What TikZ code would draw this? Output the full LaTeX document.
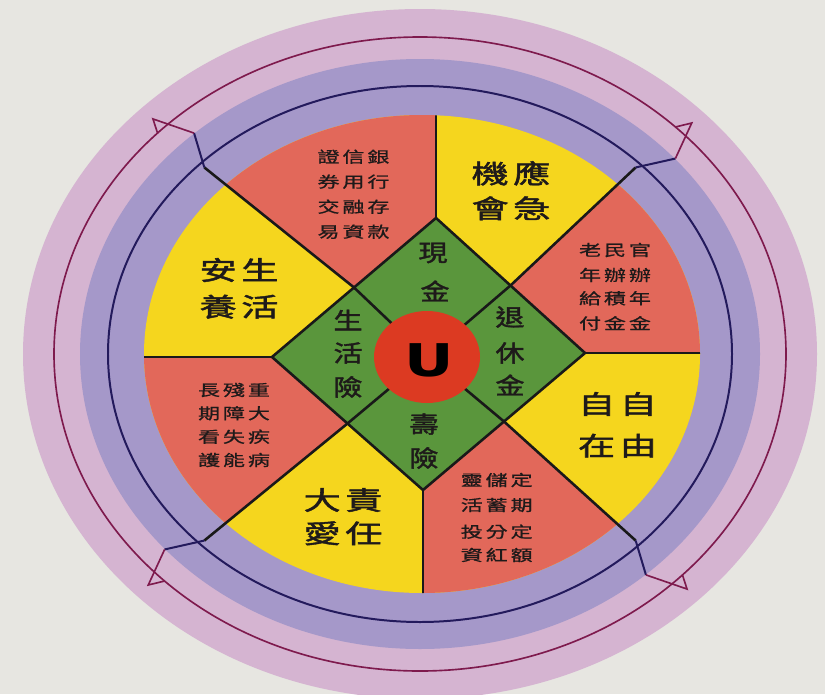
\documentclass[tikz,border=0pt]{standalone}
\usepackage{fontspec}
\usepackage{graphicx}
\usetikzlibrary{calc}
\newfontfamily\cjk[FakeBold=0.8]{Noto Sans CJK TC}
\newfontfamily\cjkb[FakeBold=1.6]{Noto Sans CJK TC}
\newfontfamily\ufont{DejaVu Sans}
\definecolor{paper}{HTML}{E7E6E1}
\definecolor{ringpink}{HTML}{D5B4D1}
\definecolor{ringpurple}{HTML}{A598C9}
\definecolor{pieyellow}{HTML}{F5D61E}
\definecolor{piered}{HTML}{E2685A}
\definecolor{dgreen}{HTML}{5A963C}
\definecolor{ured}{HTML}{DC3A22}
\definecolor{navy}{HTML}{231A5C}
\definecolor{magent}{HTML}{7E1A4D}
\definecolor{ink}{HTML}{1E1A1A}
\newcommand\vsq[2][0.7]{\scalebox{1}[#1]{#2}}
\newcommand\sgap{\hspace{2.5pt}}
\newcommand\lgap{\hspace{4pt}}
\begin{document}
\begin{tikzpicture}[x=0.3mm,y=-0.3mm,
  divider/.style={line width=2.2pt, draw=black!90},
  navyline/.style={line width=1.7pt, draw=navy},
  magline/.style={line width=1.4pt, draw=magent, line join=miter},
  smalltxt/.style={font=\cjk\fontsize{18.8}{20}\selectfont, inner sep=0pt, text=ink},
  bigtxt/.style={font=\cjkb\fontsize{31.6}{34}\selectfont, inner sep=0pt, text=ink},
  greentxt/.style={font=\cjkb\fontsize{24.8}{28}\selectfont, inner sep=0pt, text=ink},
  utxt/.style={font=\ufont\bfseries\fontsize{52}{56}\selectfont, inner sep=0pt, text=black}]
\useasboundingbox (0,0) rectangle (825,694);
\fill[paper] (0,0) rectangle (825,694);
% rings
\fill[ringpink] (420,354) ellipse [x radius=397, y radius=345];
\fill[ringpurple] (420,354) ellipse [x radius=340, y radius=295];
\draw[magline] (420,354) ellipse [x radius=366, y radius=317];
\draw[navyline] (420,354) ellipse [x radius=312, y radius=268];
% key points
\coordinate (T) at (436,218);
\coordinate (R) at (585,353);
\coordinate (B) at (423,490);
\coordinate (L) at (272,357);
\coordinate (C) at (427,357);
\coordinate (mTL) at ($(T)!0.5!(L)$);
\coordinate (mTR) at ($(T)!0.5!(R)$);
\coordinate (mBR) at ($(B)!0.5!(R)$);
\coordinate (mBL) at ($(B)!0.5!(L)$);
\begin{scope}[shift={(420,354)}, yscale=-0.865]
  \coordinate (dTR) at (45:305);
  \coordinate (dTL) at (135:305);
  \coordinate (dBL) at (225:305);
  \coordinate (dBR) at (315:305);
\end{scope}
% pie
\fill[pieyellow] (422,354) ellipse [x radius=278, y radius=239];
\begin{scope}
  \clip (422,354) ellipse [x radius=278, y radius=239];
  \fill[piered] (T) -- ++(0,-400) -- ($(mTL)!4!(dTL)$) -- (mTL) -- cycle;
  \fill[piered] (mTR) -- ($(mTR)!4!(dTR)$) -- (1300,-300) -- (1300,353) -- (R) -- cycle;
  \fill[piered] (mBR) -- ($(mBR)!4!(dBR)$) -- (1100,1300) -- (423,1300) -- (B) -- cycle;
  \fill[piered] (L) -- (-300,357) -- (-300,1300) -- ($(mBL)!4!(dBL)$) -- (mBL) -- cycle;
  \draw[divider] (T) -- ++(0,-200);
  \draw[divider] (B) -- ++(0,200);
  \draw[divider] (L) -- ++(-200,0);
  \draw[divider] (R) -- ++(200,0);
\end{scope}
% diagonals
\draw[divider] (mTL) -- (dTL);
\draw[divider] (mTR) -- (dTR);
\draw[divider] (mBR) -- (dBR);
\draw[divider] (mBL) -- (dBL);
% diamond
\fill[dgreen] (T) -- (R) -- (B) -- (L) -- cycle;
\draw[divider] (T) -- (R) -- (B) -- (L) -- cycle;
\draw[divider] (mTL) -- (C);
\draw[divider] (mTR) -- (C);
\draw[divider] (mBR) -- (C);
\draw[divider] (mBL) -- (C);
\fill[ured] (C) ellipse [x radius=53, y radius=46];
% arrows
\begin{scope}[shift={(420,354)}, yscale=-0.865]
  \foreach \p in {45,135,225,315}{
    \draw[navyline] (\p:305) -- ({\p-3.5}:341);
    \draw[magline] ({\p-3.5}:341) -- ({\p-0.5}:381) -- ({\p+0.8}:366);
  }
\end{scope}
% texts
\node[utxt] (u) at (429,360) {\vsq[0.74]{U}};
\node[smalltxt] (a1) at (353.5,156.7) {\vsq{證\sgap 信\sgap 銀}};
\node[smalltxt] (a2) at (353.5,181.7) {\vsq{券\sgap 用\sgap 行}};
\node[smalltxt] (a3) at (353.5,206.7) {\vsq{交\sgap 融\sgap 存}};
\node[smalltxt] (a4) at (353.5,231.7) {\vsq{易\sgap 資\sgap 款}};
\node[smalltxt] (b1) at (615,250) {\vsq{老\sgap 民\sgap 官}};
\node[smalltxt] (b2) at (615,275) {\vsq{年\sgap 辦\sgap 辦}};
\node[smalltxt] (b3) at (615,298.3) {\vsq{給\sgap 積\sgap 年}};
\node[smalltxt] (b4) at (615,323.3) {\vsq{付\sgap 金\sgap 金}};
\node[smalltxt] (c1) at (234,390) {\vsq{長\sgap 殘\sgap 重}};
\node[smalltxt] (c2) at (234,413.3) {\vsq{期\sgap 障\sgap 大}};
\node[smalltxt] (c3) at (234,436.7) {\vsq{看\sgap 失\sgap 疾}};
\node[smalltxt] (c4) at (234,460) {\vsq{護\sgap 能\sgap 病}};
\node[smalltxt] (d1) at (496.7,480) {\vsq{靈\sgap 儲\sgap 定}};
\node[smalltxt] (d2) at (496.7,505) {\vsq{活\sgap 蓄\sgap 期}};
\node[smalltxt] (d3) at (496.7,531.7) {\vsq{投\sgap 分\sgap 定}};
\node[smalltxt] (d4) at (496.7,555) {\vsq{資\sgap 紅\sgap 額}};
\node[bigtxt] (e1) at (511,173.3) {\vsq{機\lgap 應}};
\node[bigtxt] (e2) at (511,208.3) {\vsq{會\lgap 急}};
\node[bigtxt] (f1) at (239,270) {\vsq{安\lgap 生}};
\node[bigtxt] (f2) at (239,306.7) {\vsq{養\lgap 活}};
\node[bigtxt] (g1) at (617.5,404) {\vsq{自\lgap 自}};
\node[bigtxt] (g2) at (617.5,445.7) {\vsq{在\lgap 由}};
\node[bigtxt] (h1) at (343,500) {\vsq{大\lgap 責}};
\node[bigtxt] (h2) at (343,533.3) {\vsq{愛\lgap 任}};
\node[greentxt] (k1) at (433,253) {\vsq[0.8]{現}};
\node[greentxt] (k2) at (435,291) {\vsq[0.8]{金}};
\node[greentxt] (k3) at (348,320) {\vsq[0.8]{生}};
\node[greentxt] (k4) at (348,353) {\vsq[0.8]{活}};
\node[greentxt] (k5) at (348,387) {\vsq[0.8]{險}};
\node[greentxt] (k6) at (510,317) {\vsq[0.8]{退}};
\node[greentxt] (k7) at (510,353) {\vsq[0.8]{休}};
\node[greentxt] (k8) at (510,385) {\vsq[0.8]{金}};
\node[greentxt] (k9) at (424,424) {\vsq[0.8]{壽}};
\node[greentxt] (k10) at (424,458) {\vsq[0.8]{險}};
\end{tikzpicture}
\end{document}
